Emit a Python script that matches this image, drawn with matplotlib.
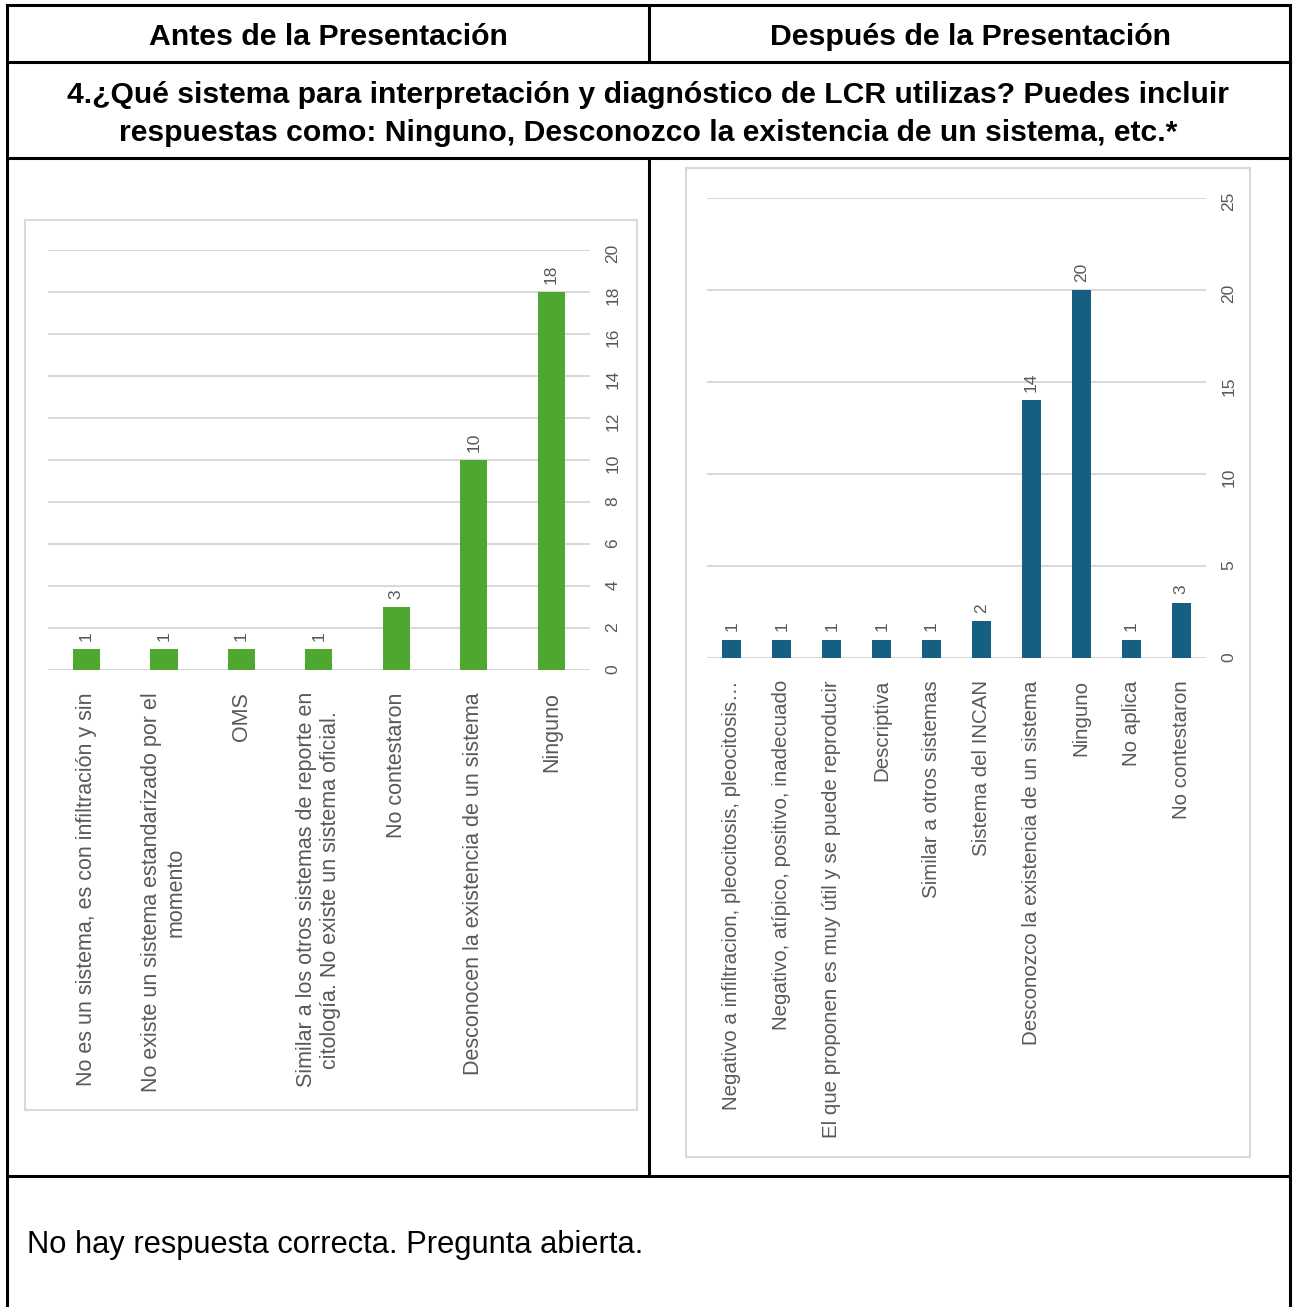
import matplotlib
matplotlib.use("Agg")
import matplotlib.pyplot as plt
from matplotlib.lines import Line2D
from matplotlib.patches import Rectangle

plt.rcParams['font.family'] = ['Liberation Sans', 'DejaVu Sans']

header_left = "Antes de la Presentación"
header_right = "Después de la Presentación"
question = ("4.¿Qué sistema para interpretación y diagnóstico de LCR utilizas? Puedes incluir\n"
            "respuestas como: Ninguno, Desconozco la existencia de un sistema, etc.*")
footer = "No hay respuesta correcta. Pregunta abierta."

antes_labels = [
    "No es un sistema, es con infiltración y sin",
    "No existe un sistema estandarizado por el\nmomento",
    "OMS",
    "Similar a los otros sistemas de reporte en\ncitología. No existe un sistema oficial.",
    "No contestaron",
    "Desconocen la existencia de un sistema",
    "Ninguno",
]
antes_values = [1, 1, 1, 1, 3, 10, 18]

despues_labels = [
    "Negativo a infiltracion, pleocitosis, pleocitosis…",
    "Negativo, atípico, positivo, inadecuado",
    "El que proponen es muy útil y se puede reproducir",
    "Descriptiva",
    "Similar a otros sistemas",
    "Sistema del INCAN",
    "Desconozco la existencia de un sistema",
    "Ninguno",
    "No aplica",
    "No contestaron",
]
despues_values = [1, 1, 1, 1, 1, 2, 14, 20, 1, 3]

W, H = 1296, 1307
GRAY_TXT = "#595959"
GRID = "#D9D9D9"


def px(x0, y0, x1, y1):
    # pixel box (top-left origin) -> figure fraction rect
    return [x0 / W, 1 - y1 / H, (x1 - x0) / W, (y1 - y0) / H]


def bar_chart(fig, rect, labels, values, color, ymax, step, lab_size, width):
    ax = fig.add_axes(rect)
    x = list(range(len(values)))
    bars = ax.bar(x, values, width=width, color=color, zorder=3)
    ax.set_xlim(-0.5, len(values) - 0.5)
    ax.set_ylim(0, ymax)
    ax.set_yticks(range(0, ymax + 1, step))
    ax.yaxis.tick_right()
    ax.grid(axis='y', color=GRID, linewidth=1.5, zorder=0)
    for s in ax.spines.values():
        s.set_visible(False)
    ax.tick_params(axis='y', length=0, pad=11, labelsize=12.5, labelcolor=GRAY_TXT, labelrotation=90)
    ax.tick_params(axis='x', length=0, pad=16)
    ax.set_xticks(x)
    ax.set_xticklabels(labels, rotation=90, fontsize=lab_size, color=GRAY_TXT,
                       ha='center', va='top', multialignment='center')
    for b, v in zip(bars, values):
        ax.annotate(str(v), (b.get_x() + b.get_width() / 2, v), xytext=(0, 6),
                    textcoords='offset points', rotation=90, ha='center', va='bottom',
                    fontsize=12.5, color=GRAY_TXT)
    return ax


def draw_table(fig):
    lw = 2.2
    segs = [
        ((7, 5), (1290, 5)),
        ((7, 5), (7, H)),
        ((1290, 5), (1290, H)),
        ((7, 62), (1290, 62)),
        ((7, 158), (1290, 158)),
        ((7, 1176), (1290, 1176)),
        ((649, 5), (649, 62)),
        ((649, 158), (649, 1176)),
    ]
    for (xa, ya), (xb, yb) in segs:
        fig.add_artist(Line2D([xa / W, xb / W], [1 - ya / H, 1 - yb / H],
                              color='black', linewidth=lw))
    # chart frames
    for (x0, y0, x1, y1) in [(25, 220, 637, 1110), (686, 168, 1250, 1157)]:
        r = px(x0, y0, x1, y1)
        fig.add_artist(Rectangle((r[0], r[1]), r[2], r[3], transform=fig.transFigure,
                                 fill=False, edgecolor=GRID, linewidth=1.5))


def main():
    fig = plt.figure(figsize=(W / 100, H / 100), dpi=100)
    fig.patch.set_facecolor('white')
    draw_table(fig)

    fig.text(328 / W, 1 - 37 / H, header_left, ha='center', va='center',
             fontsize=21.8, fontweight='bold')
    fig.text(970 / W, 1 - 37 / H, header_right, ha='center', va='center',
             fontsize=21.8, fontweight='bold')
    fig.text(648 / W, 1 - 114 / H, question, ha='center', va='center',
             fontsize=21.7, fontweight='bold', linespacing=1.45)
    fig.text(27 / W, 1 - 1245 / H, footer, ha='left', va='center', fontsize=22.2)

    bar_chart(fig, px(47.75, 250, 590, 670), antes_labels, antes_values,
              "#4EA72E", 20, 2, 15.5, 0.35)
    bar_chart(fig, px(707, 198, 1206, 658), despues_labels, despues_values,
              "#156082", 25, 5, 14.8, 0.38)

    fig.savefig("out.png", dpi=100)


if __name__ == "__main__":
    main()
